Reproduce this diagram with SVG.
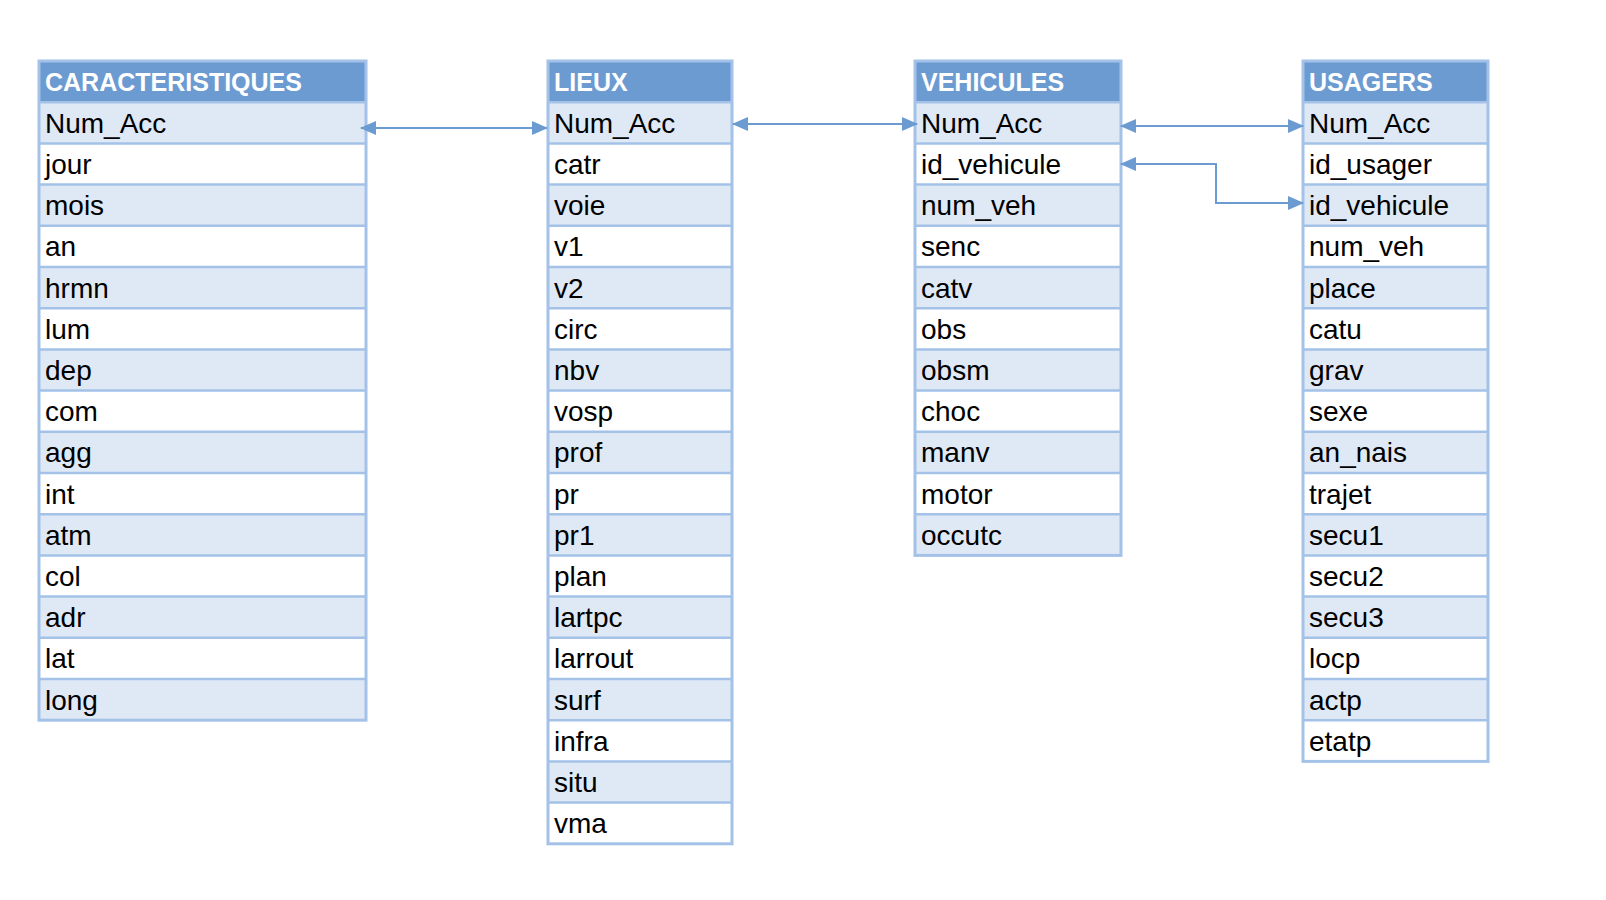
<svg xmlns="http://www.w3.org/2000/svg" width="1606" height="900" viewBox="0 0 1606 900">
<defs>
<style>
.hd{fill:#6c9bd2}
.l{fill:#dfe8f5}
.w{fill:#ffffff}
.sep{stroke:#a4c2e8;stroke-width:2.5}
.out{fill:none;stroke:#a4c2e8;stroke-width:3}
.ht{font-family:"Liberation Sans",Arial,sans-serif;font-weight:bold;font-size:25px;fill:#ffffff}
.t{font-family:"Liberation Sans",Arial,sans-serif;font-size:28px;fill:#000000}
.c{fill:none;stroke:#6c9bd2;stroke-width:2}
</style>
<marker id="ah" viewBox="0 0 16 14" refX="15" refY="7" markerWidth="16" markerHeight="14" markerUnits="userSpaceOnUse" orient="auto-start-reverse">
<path d="M0,0 L16,7 L0,14 Z" fill="#6c9bd2"/>
</marker>
</defs>
<rect width="1606" height="900" fill="#ffffff"/>

<g id="caracteristiques">
<rect class="hd" x="39" y="61" width="327" height="41.2"/>
<rect class="l" x="39" y="102.2" width="327" height="41.2"/>
<rect class="l" x="39" y="184.6" width="327" height="41.2"/>
<rect class="l" x="39" y="267" width="327" height="41.2"/>
<rect class="l" x="39" y="349.4" width="327" height="41.2"/>
<rect class="l" x="39" y="431.8" width="327" height="41.2"/>
<rect class="l" x="39" y="514.2" width="327" height="41.2"/>
<rect class="l" x="39" y="596.6" width="327" height="41.2"/>
<rect class="l" x="39" y="679" width="327" height="41.2"/>
<path class="sep" d="M39,102.2H366M39,143.4H366M39,184.6H366M39,225.8H366M39,267H366M39,308.2H366M39,349.4H366M39,390.6H366M39,431.8H366M39,473H366M39,514.2H366M39,555.4H366M39,596.6H366M39,637.8H366M39,679H366"/>
<rect class="out" x="39" y="61" width="327" height="659.2"/>
<text class="ht" x="45" y="91">CARACTERISTIQUES</text>
<text class="t" x="45" y="132.7">Num_Acc</text>
<text class="t" x="45" y="173.9">jour</text>
<text class="t" x="45" y="215.1">mois</text>
<text class="t" x="45" y="256.3">an</text>
<text class="t" x="45" y="297.5">hrmn</text>
<text class="t" x="45" y="338.7">lum</text>
<text class="t" x="45" y="379.9">dep</text>
<text class="t" x="45" y="421.1">com</text>
<text class="t" x="45" y="462.3">agg</text>
<text class="t" x="45" y="503.5">int</text>
<text class="t" x="45" y="544.7">atm</text>
<text class="t" x="45" y="585.9">col</text>
<text class="t" x="45" y="627.1">adr</text>
<text class="t" x="45" y="668.3">lat</text>
<text class="t" x="45" y="709.5">long</text>
</g>

<g id="lieux">
<rect class="hd" x="548" y="61" width="184" height="41.2"/>
<rect class="l" x="548" y="102.2" width="184" height="41.2"/>
<rect class="l" x="548" y="184.6" width="184" height="41.2"/>
<rect class="l" x="548" y="267" width="184" height="41.2"/>
<rect class="l" x="548" y="349.4" width="184" height="41.2"/>
<rect class="l" x="548" y="431.8" width="184" height="41.2"/>
<rect class="l" x="548" y="514.2" width="184" height="41.2"/>
<rect class="l" x="548" y="596.6" width="184" height="41.2"/>
<rect class="l" x="548" y="679" width="184" height="41.2"/>
<rect class="l" x="548" y="761.4" width="184" height="41.2"/>
<path class="sep" d="M548,102.2H732M548,143.4H732M548,184.6H732M548,225.8H732M548,267H732M548,308.2H732M548,349.4H732M548,390.6H732M548,431.8H732M548,473H732M548,514.2H732M548,555.4H732M548,596.6H732M548,637.8H732M548,679H732M548,720.2H732M548,761.4H732M548,802.6H732"/>
<rect class="out" x="548" y="61" width="184" height="782.8"/>
<text class="ht" x="554" y="91">LIEUX</text>
<text class="t" x="554" y="132.7">Num_Acc</text>
<text class="t" x="554" y="173.9">catr</text>
<text class="t" x="554" y="215.1">voie</text>
<text class="t" x="554" y="256.3">v1</text>
<text class="t" x="554" y="297.5">v2</text>
<text class="t" x="554" y="338.7">circ</text>
<text class="t" x="554" y="379.9">nbv</text>
<text class="t" x="554" y="421.1">vosp</text>
<text class="t" x="554" y="462.3">prof</text>
<text class="t" x="554" y="503.5">pr</text>
<text class="t" x="554" y="544.7">pr1</text>
<text class="t" x="554" y="585.9">plan</text>
<text class="t" x="554" y="627.1">lartpc</text>
<text class="t" x="554" y="668.3">larrout</text>
<text class="t" x="554" y="709.5">surf</text>
<text class="t" x="554" y="750.7">infra</text>
<text class="t" x="554" y="791.9">situ</text>
<text class="t" x="554" y="833.1">vma</text>
</g>

<g id="vehicules">
<rect class="hd" x="915" y="61" width="206" height="41.2"/>
<rect class="l" x="915" y="102.2" width="206" height="41.2"/>
<rect class="l" x="915" y="184.6" width="206" height="41.2"/>
<rect class="l" x="915" y="267" width="206" height="41.2"/>
<rect class="l" x="915" y="349.4" width="206" height="41.2"/>
<rect class="l" x="915" y="431.8" width="206" height="41.2"/>
<rect class="l" x="915" y="514.2" width="206" height="41.2"/>
<path class="sep" d="M915,102.2H1121M915,143.4H1121M915,184.6H1121M915,225.8H1121M915,267H1121M915,308.2H1121M915,349.4H1121M915,390.6H1121M915,431.8H1121M915,473H1121M915,514.2H1121"/>
<rect class="out" x="915" y="61" width="206" height="494.4"/>
<text class="ht" x="921" y="91">VEHICULES</text>
<text class="t" x="921" y="132.7">Num_Acc</text>
<text class="t" x="921" y="173.9">id_vehicule</text>
<text class="t" x="921" y="215.1">num_veh</text>
<text class="t" x="921" y="256.3">senc</text>
<text class="t" x="921" y="297.5">catv</text>
<text class="t" x="921" y="338.7">obs</text>
<text class="t" x="921" y="379.9">obsm</text>
<text class="t" x="921" y="421.1">choc</text>
<text class="t" x="921" y="462.3">manv</text>
<text class="t" x="921" y="503.5">motor</text>
<text class="t" x="921" y="544.7">occutc</text>
</g>

<g id="usagers">
<rect class="hd" x="1303" y="61" width="185" height="41.2"/>
<rect class="l" x="1303" y="102.2" width="185" height="41.2"/>
<rect class="l" x="1303" y="184.6" width="185" height="41.2"/>
<rect class="l" x="1303" y="267" width="185" height="41.2"/>
<rect class="l" x="1303" y="349.4" width="185" height="41.2"/>
<rect class="l" x="1303" y="431.8" width="185" height="41.2"/>
<rect class="l" x="1303" y="514.2" width="185" height="41.2"/>
<rect class="l" x="1303" y="596.6" width="185" height="41.2"/>
<rect class="l" x="1303" y="679" width="185" height="41.2"/>
<path class="sep" d="M1303,102.2H1488M1303,143.4H1488M1303,184.6H1488M1303,225.8H1488M1303,267H1488M1303,308.2H1488M1303,349.4H1488M1303,390.6H1488M1303,431.8H1488M1303,473H1488M1303,514.2H1488M1303,555.4H1488M1303,596.6H1488M1303,637.8H1488M1303,679H1488M1303,720.2H1488"/>
<rect class="out" x="1303" y="61" width="185" height="700.4"/>
<text class="ht" x="1309" y="91">USAGERS</text>
<text class="t" x="1309" y="132.7">Num_Acc</text>
<text class="t" x="1309" y="173.9">id_usager</text>
<text class="t" x="1309" y="215.1">id_vehicule</text>
<text class="t" x="1309" y="256.3">num_veh</text>
<text class="t" x="1309" y="297.5">place</text>
<text class="t" x="1309" y="338.7">catu</text>
<text class="t" x="1309" y="379.9">grav</text>
<text class="t" x="1309" y="421.1">sexe</text>
<text class="t" x="1309" y="462.3">an_nais</text>
<text class="t" x="1309" y="503.5">trajet</text>
<text class="t" x="1309" y="544.7">secu1</text>
<text class="t" x="1309" y="585.9">secu2</text>
<text class="t" x="1309" y="627.1">secu3</text>
<text class="t" x="1309" y="668.3">locp</text>
<text class="t" x="1309" y="709.5">actp</text>
<text class="t" x="1309" y="750.7">etatp</text>
</g>

<g id="connectors">
<path class="c" d="M361,128H547" marker-start="url(#ah)" marker-end="url(#ah)"/>
<path class="c" d="M733,124H917" marker-start="url(#ah)" marker-end="url(#ah)"/>
<path class="c" d="M1121,126H1303" marker-start="url(#ah)" marker-end="url(#ah)"/>
<path class="c" d="M1121,164H1216V203H1303" marker-start="url(#ah)" marker-end="url(#ah)"/>
</g>
</svg>
